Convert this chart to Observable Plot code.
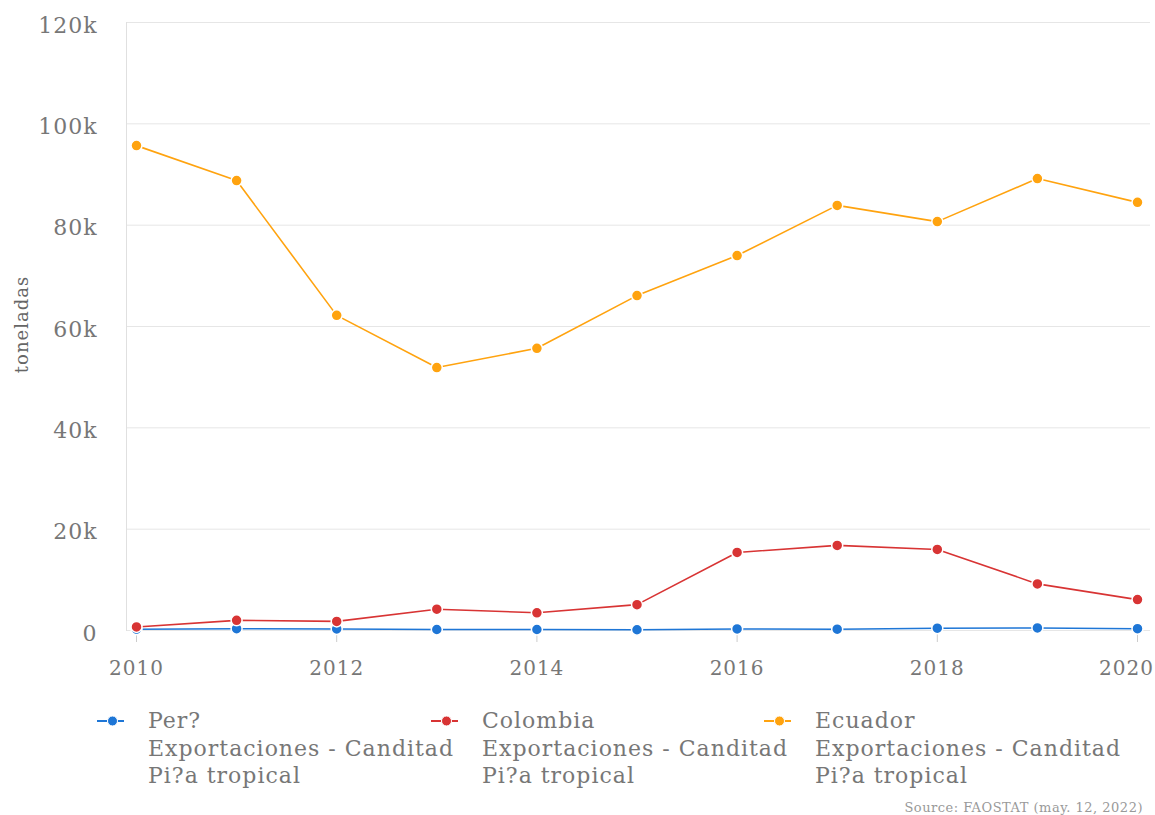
<!DOCTYPE html>
<html>
<head>
<meta charset="utf-8">
<script src="https://cdn.jsdelivr.net/npm/d3@7"></script>
<script src="https://cdn.jsdelivr.net/npm/@observablehq/plot@0.6"></script>
<style>
  html, body { margin: 0; padding: 0; background: #fff; }
  #wrap { position: relative; width: 1155px; height: 815px; font-family: "DejaVu Serif", serif; }
  #chart svg { display: block; overflow: visible; }
  #chart svg text { letter-spacing: 1px; }
  .legend-item { position: absolute; top: 707px; color: #777; font-size: 22px; line-height: 27.5px; letter-spacing: 1px; }
  .legend-item svg { position: absolute; left: 0; top: 6px; }
  .legend-item .txt { position: absolute; left: 51px; top: 0; white-space: nowrap; }
  #source { position: absolute; right: 12px; top: 800px; font-size: 13px; color: #999; letter-spacing: 0.5px; }
</style>
</head>
<body>
<div id="wrap">
  <div id="chart"></div>
  <div id="legend"></div>
  <div id="source"></div>
</div>
<script>
const years = [2010, 2011, 2012, 2013, 2014, 2015, 2016, 2017, 2018, 2019, 2020];
const seriesNames = ["Per?", "Colombia", "Ecuador"];
const seriesSubtitle = ["Exportaciones - Canditad", "Pi?a tropical"];
const seriesColors = ["#1e76d6", "#d83434", "#ffa30f"];
const peru =     [250, 350, 300, 200, 200, 150, 300, 250, 450, 500, 350];
const colombia = [700, 2000, 1800, 4200, 3500, 5100, 15400, 16800, 16000, 9200, 6100];
const ecuador =  [95700, 88800, 62200, 51900, 55700, 66100, 74000, 83900, 80700, 89200, 84500];
const yTicks = [0, 20000, 40000, 60000, 80000, 100000, 120000];
const xTicks = [2010, 2012, 2014, 2016, 2018, 2020];
const yLabel = "toneladas";
const sourceText = "Source: FAOSTAT (may. 12, 2022)";

const values = [peru, colombia, ecuador];
const data = [];
seriesNames.forEach((s, i) => years.forEach((y, j) => data.push({series: s, year: y, value: values[i][j]})));

const lastX = xTicks[xTicks.length - 1];

const plot = Plot.plot({
  width: 1155,
  height: 690,
  marginTop: 22,
  marginBottom: 60,
  marginLeft: 126,
  marginRight: 5,
  style: {fontFamily: "DejaVu Serif", color: "#777", background: "#fff", overflow: "visible"},
  x: {domain: [2010, 2020], insetLeft: 10, insetRight: 13},
  y: {domain: [0, 120000]},
  color: {domain: seriesNames, range: seriesColors},
  marks: [
    Plot.gridY(yTicks, {stroke: "#e6e6e6", strokeOpacity: 1}),
    Plot.frame({anchor: "left", stroke: "#e0e0e0"}),
    Plot.axisY(yTicks, {
      tickSize: 0, tickPadding: 29, fontSize: 22, fill: "#777", dy: 3,
      tickFormat: d => d === 0 ? "0" : (d / 1000) + "k",
      label: null
    }),
    Plot.text([yLabel], {frameAnchor: "left", textAnchor: "middle", dx: -104, dy: -2, rotate: -90, fontSize: 18, fill: "#666"}),
    Plot.axisX(xTicks, {
      tickSize: 12, tickPadding: 18, fontSize: 20, fill: "#777", stroke: "#ccc",
      tickFormat: d => d === lastX ? "" : String(d), label: null
    }),
    Plot.axisX([lastX], {
      tickSize: 0, tickPadding: 30, fontSize: 20, fill: "#777", dx: -11,
      tickFormat: d => String(d), label: null
    }),
    Plot.line(data, {x: "year", y: "value", z: "series", stroke: "series", strokeWidth: 1.6}),
    Plot.dot(data, {x: "year", y: "value", fill: "series", stroke: "#fff", strokeWidth: 1.5, r: 5.5})
  ]
});
document.getElementById("chart").appendChild(plot);

const legend = document.getElementById("legend");
const lefts = [97, 431, 764];
seriesNames.forEach((s, i) => {
  const item = document.createElement("div");
  item.className = "legend-item";
  item.style.left = lefts[i] + "px";
  item.innerHTML = `<svg width="32" height="16">
      <line x1="0" x2="32" y1="8" y2="8" stroke="${seriesColors[i]}" stroke-width="2" stroke-dasharray="10 5 2 0 10"></line>
      <circle cx="15.5" cy="8" r="5" fill="${seriesColors[i]}" stroke="#fff" stroke-width="1"></circle>
    </svg><div class="txt">${[s, ...seriesSubtitle].join("<br>")}</div>`;
  legend.appendChild(item);
});
document.getElementById("source").textContent = sourceText;
</script>
</body>
</html>
